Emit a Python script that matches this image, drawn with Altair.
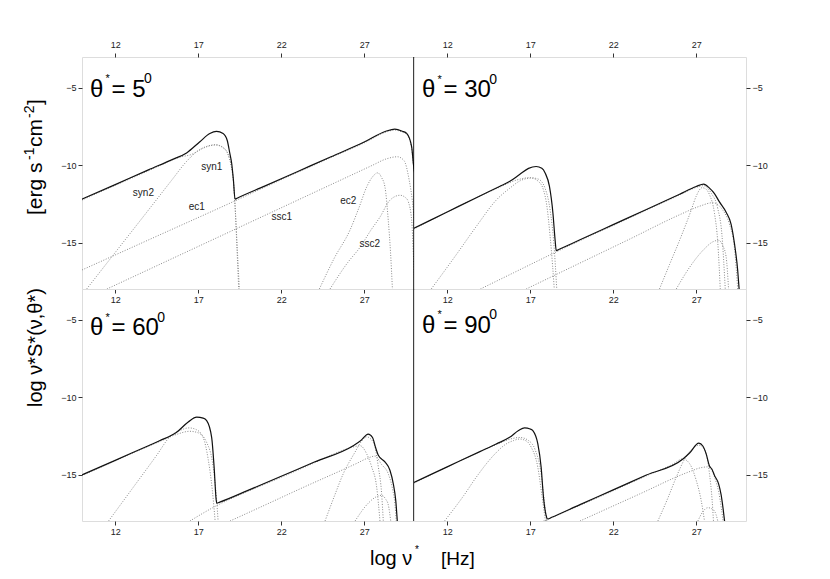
import altair as alt
import pandas as pd

X_DOMAIN = [10, 30]
Y_DOMAIN = [-18, -3]
X_TICKS = [12, 17, 22, 27]
Y_TICKS = [-5, -10, -15]

ANGLES = ["5", "30", "60", "90"]

# ---------------- theta = 5 ----------------
TL_TOTAL = [(10, -12.19), (12, -11.25), (14, -10.3), (15.5, -9.6), (16.3, -9.2), (17.1, -8.48), (17.7, -7.95),
            (18.1, -7.81), (18.5, -7.95), (18.75, -8.4), (18.9, -9.2), (19.02, -9.9), (19.12, -10.94), (19.22, -12.19),
            (19.4, -12.1), (21, -11.35), (23, -10.4), (25, -9.45), (27, -8.5), (28.3, -7.8), (28.84, -7.66),
            (29.3, -7.8), (29.56, -7.94), (29.86, -8.81), (29.96, -9.88), (30.05, -10.6)]
TL_SYN1 = [(10, -12.25), (14, -10.36), (16.0, -9.45), (16.6, -9.3), (17.2, -8.95), (17.6, -8.77), (18.05, -8.69),
           (18.5, -8.87), (18.8, -9.3), (19.0, -10.1), (19.12, -11.0), (19.24, -13.0), (19.34, -15.5), (19.44, -18)]
TL_SYN2 = [(10.28, -18), (12, -15.64), (14, -12.9), (15.4, -10.97), (16.3, -9.75), (17.0, -9.05), (17.6, -8.75),
           (18.05, -8.67), (18.5, -8.85), (18.8, -9.3), (19.0, -10.1), (19.12, -11.0), (19.24, -13.0),
           (19.36, -15.5), (19.48, -18)]
TL_EC1 = [(10, -16.77), (14, -14.83), (19.22, -12.3), (21, -11.42), (23, -10.45), (25, -9.5), (27, -8.55),
          (28.3, -7.86), (28.84, -7.72), (29.3, -7.86), (29.56, -8.0), (29.86, -8.9), (29.96, -9.95), (30.05, -10.7)]
TL_SSC1 = [(11.5, -18), (15, -16.25), (20, -13.75), (25, -11.25), (27.5, -10.0), (28.3, -9.6), (29.0, -9.45),
           (29.4, -9.7), (29.7, -10.9), (29.9, -12.3), (30.05, -14)]
TL_EC2 = [(24.3, -18), (25.2, -16.0), (26.14, -14.2), (26.7, -12.7), (27.15, -11.4), (27.5, -10.75), (27.81, -10.49),
          (28.05, -10.8), (28.25, -11.4), (28.45, -13.56), (28.59, -15.7), (28.7, -18)]
TL_SSC2 = [(24.94, -18), (26.0, -16.3), (26.75, -15.3), (27.4, -14.2), (27.95, -13.35), (28.55, -12.26),
           (29.16, -11.94), (29.5, -12.1), (29.66, -12.37), (29.86, -13.56), (29.96, -15.7), (30.05, -18)]

LABEL_TEXT = ["syn1", "syn2", "ec1", "ssc1", "ec2", "ssc2"]
LABEL_X = [17.82, 13.7, 16.91, 22.03, 26.04, 27.34]
LABEL_Y = [-10.08, -11.8, -12.67, -13.32, -12.3, -15.09]

# ---------------- theta = 30 ----------------
TR_TOTAL = [(10, -14.07), (12, -13.02), (14, -11.97), (15.15, -11.37), (15.75, -11.05), (16.36, -10.6), (16.9, -10.2),
            (17.36, -10.08), (17.7, -10.2), (17.9, -10.5), (18.16, -11.37), (18.37, -13.1), (18.5, -14.83),
            (18.57, -15.52), (18.75, -15.43), (20, -14.82), (22, -13.84), (24, -12.86), (26, -11.87), (27.0, -11.37),
            (27.45, -11.22), (27.8, -11.48), (28.1, -11.83), (28.4, -12.37), (28.81, -13.05), (29.1, -13.8),
            (29.31, -15.1), (29.5, -16.8), (29.6, -18.2)]
TR_SYN1 = [(10, -14.12), (15.15, -11.42), (16.2, -10.95), (17.0, -10.8), (17.5, -10.9), (17.9, -11.5), (18.2, -12.9),
           (18.42, -15.0), (18.6, -18)]
TR_SYN2 = [(11.04, -18), (12.5, -15.85), (13.75, -13.96), (15.0, -12.2), (15.75, -11.5), (16.4, -11.0),
           (17.06, -10.83), (17.5, -11.05), (17.8, -11.6), (18.0, -12.6), (18.2, -14.6), (18.35, -16.5), (18.45, -18)]
TR_EC1 = [(14.0, -18), (16, -16.95), (18.57, -15.6), (20, -14.87), (22, -13.89), (24, -12.9), (26, -11.92),
          (27.0, -11.43), (27.45, -11.32), (27.9, -11.8), (28.3, -12.8), (28.55, -14.5), (28.75, -18)]
TR_SSC1 = [(16.76, -18), (20, -16.32), (23, -14.77), (26, -13.2), (27.2, -12.65), (28.0, -12.42), (28.6, -12.9),
           (29.0, -13.8), (29.3, -15.3), (29.5, -18)]
TR_EC2 = [(24.79, -18), (25.4, -16.4), (26.0, -14.85), (26.7, -12.9), (27.0, -12.0), (27.35, -11.45), (27.6, -11.55),
          (27.8, -11.9), (28.1, -13.1), (28.3, -15.0), (28.45, -18)]
TR_SSC2 = [(25.8, -18), (26.6, -16.6), (27.5, -15.4), (28.0, -14.95), (28.35, -14.85), (28.6, -15.2), (28.8, -15.9),
           (28.95, -18)]

# ---------------- theta = 60 ----------------
BL_TOTAL = [(10, -15.02), (12, -14.08), (14, -13.13), (14.7, -12.8), (15.7, -12.26), (16.4, -11.6), (16.91, -11.29),
            (17.3, -11.35), (17.51, -11.51), (17.81, -12.59), (17.96, -14.53), (18.08, -16.6), (18.12, -16.85),
            (18.3, -16.78), (20, -16.02), (22, -15.11), (24, -14.19), (26.34, -13.13), (26.8, -12.8), (27.24, -12.38),
            (27.5, -12.6), (27.7, -13.3), (27.85, -13.75), (28.25, -14.18), (28.55, -14.72), (28.75, -15.58),
            (28.9, -16.67), (29.0, -18.1)]
BL_SYN1 = [(10, -15.07), (14.7, -12.85), (15.7, -12.4), (16.5, -12.2), (17.0, -12.3), (17.5, -12.9), (17.9, -14.5),
           (18.1, -16.5), (18.2, -18)]
BL_SYN2 = [(11.6, -18), (13.0, -15.95), (14.5, -13.75), (15.3, -12.55), (15.9, -12.15), (16.45, -11.98),
           (16.9, -12.1), (17.3, -12.6), (17.6, -14.0), (17.85, -16.0), (18.02, -18)]
BL_EC1 = [(16.5, -18), (18.12, -17.0), (20, -16.08), (22, -15.17), (24, -14.24), (26.0, -13.32), (26.5, -13.17),
          (26.75, -13.13), (27.15, -13.66), (27.45, -14.5), (27.75, -15.8), (27.95, -18)]
BL_SSC1 = [(18.92, -18), (21, -16.98), (23.16, -15.91), (26.5, -14.3), (27.3, -13.9), (27.65, -13.8), (28.05, -14.35),
           (28.45, -14.95), (28.7, -15.9), (28.85, -16.9), (28.93, -18)]
BL_EC2 = [(24.64, -18), (25.2, -16.4), (25.74, -14.94), (26.45, -13.54), (26.8, -12.9), (27.15, -12.56), (27.4, -12.7),
          (27.65, -13.22), (27.85, -14.5), (28.05, -16.23), (28.15, -18)]
BL_SSC2 = [(26.45, -18), (27.2, -16.9), (27.7, -16.45), (28.05, -16.34), (28.3, -16.6), (28.45, -16.95), (28.6, -18)]

# ---------------- theta = 90 ----------------
BR_TOTAL = [(10, -15.5), (12, -14.5), (14, -13.5), (14.95, -13.02), (15.76, -12.59), (16.3, -12.15), (16.66, -11.98),
            (17.0, -12.05), (17.16, -12.16), (17.46, -13.02), (17.66, -14.53), (17.8, -16.47), (17.96, -17.65),
            (18.06, -17.87), (18.3, -17.76), (20, -16.94), (22, -15.99), (24, -15.03), (26.2, -13.99), (26.6, -13.6),
            (27.16, -12.97), (27.4, -13.15), (27.6, -13.66), (27.8, -14.45), (27.95, -14.65), (28.1, -15.05),
            (28.35, -15.6), (28.5, -16.3), (28.62, -17.2), (28.72, -18.1)]
BR_SYN1 = [(10, -15.55), (14.95, -13.07), (15.8, -12.7), (16.4, -12.6), (16.9, -12.8), (17.3, -13.4), (17.65, -14.9),
           (17.85, -16.7), (18.0, -18)]
BR_SYN2 = [(11.84, -18), (13.0, -16.35), (13.75, -15.17), (14.8, -13.75), (15.55, -13.02), (16.0, -12.8),
           (16.36, -12.7), (16.8, -12.85), (17.06, -13.23), (17.46, -14.53), (17.72, -16.47), (17.92, -18)]
BR_EC1 = [(17.8, -18), (20, -16.99), (22, -16.04), (24, -15.08), (25.6, -14.32), (26.19, -13.98), (26.6, -14.29),
          (27.0, -15.37), (27.3, -16.67), (27.5, -18)]
BR_SSC1 = [(20.0, -18), (23.6, -16.25), (26.5, -14.85), (27.3, -14.55), (27.7, -14.5), (27.95, -14.75),
           (28.15, -15.3), (28.35, -16.1), (28.52, -17.2), (28.62, -18)]
BR_EC2 = [(24.69, -18), (25.3, -16.5), (25.8, -15.16), (26.3, -14.0), (26.8, -13.3), (27.16, -13.1), (27.45, -13.3),
          (27.6, -13.64), (27.8, -14.94), (27.96, -16.67), (28.04, -18)]
BR_SSC2 = [(27.1, -18), (27.4, -17.4), (27.7, -17.14), (28.0, -17.25), (28.2, -17.6), (28.3, -18)]

PANEL_LABEL_Y = [-5.57, -5.61, -5.98, -5.83]

FONT = "Liberation Sans"
xs = alt.Scale(domain=X_DOMAIN, nice=False, zero=False)
ys = alt.Scale(domain=Y_DOMAIN, nice=False, zero=False)

AXIS_STYLE = dict(tickSize=4, tickColor="#333", labelFontSize=9, labelColor="#222",
                  domain=False, grid=False, title=None, labelFont=FONT)


def xaxis(orient):
    return alt.Axis(orient=orient, values=X_TICKS, labelPadding=4 if orient == "top" else 2, **AXIS_STYLE)


def yaxis(orient):
    return alt.Axis(orient=orient, values=Y_TICKS, labelPadding=2, **AXIS_STYLE)


def to_df(series):
    rows = []
    for name, pts in series.items():
        for k, (x, y) in enumerate(pts):
            rows.append({"series": name, "i": k, "x": x, "y": y})
    return pd.DataFrame(rows)


def panel(idx, total, comps, top, left, labels=False, extra=None):
    dfc = to_df(comps)
    dft = to_df({"total": total})
    comp = alt.Chart(dfc).mark_line(clip=True, interpolate="monotone", strokeDash=[1, 1.6], strokeWidth=1,
                                    color="#8a8a8a").encode(
        x=alt.X("x:Q", scale=xs, axis=xaxis("top" if top else "bottom")),
        y=alt.Y("y:Q", scale=ys, axis=yaxis("left" if left else "right")),
        detail="series:N", order="i:Q")
    tot = alt.Chart(dft).mark_line(clip=True, interpolate="monotone", color="#111", strokeWidth=1.2).encode(
        x=alt.X("x:Q", scale=xs, axis=xaxis("bottom") if top else None),
        y=alt.Y("y:Q", scale=ys, axis=None),
        order="i:Q")
    layers = [comp, tot]
    ang = ANGLES[idx]
    lab = pd.DataFrame({"x": [10.48], "y": [PANEL_LABEL_Y[idx]]})
    base = alt.Chart(lab).encode(x=alt.X("x:Q", scale=xs, axis=None), y=alt.Y("y:Q", scale=ys, axis=None))
    txt = dict(align="left", baseline="alphabetic", font=FONT, color="#000")
    layers.append(base.mark_text(fontSize=24, dx=0, text="θ", **txt))
    layers.append(base.mark_text(fontSize=11, dx=15.5, dy=-14.5, text="*", **txt))
    layers.append(base.mark_text(fontSize=24, dx=21.5, text="= " + ang, **txt))
    layers.append(base.mark_text(fontSize=14, dx=54 + 13.35 * (len(ang) - 1), dy=-13.4, text="0", **txt))
    if labels:
        dfl = pd.DataFrame({"x": LABEL_X, "y": LABEL_Y, "t": LABEL_TEXT})
        layers.append(alt.Chart(dfl).mark_text(fontSize=10, font=FONT, color="#222").encode(
            x=alt.X("x:Q", scale=xs, axis=None), y=alt.Y("y:Q", scale=ys, axis=None), text="t:N"))
    if left:
        layers.append(alt.Chart(pd.DataFrame({"x": [X_DOMAIN[1]]})).mark_rule(color="#000", strokeWidth=1.5)
                      .encode(x=alt.X("x:Q", scale=xs, axis=None)))
    if extra:
        layers.extend(extra)
    return alt.layer(*layers).resolve_axis(x="independent", y="independent").properties(width=332, height=232)


# axis titles (placed relative to the lower-left panel)
ttl = alt.Chart(pd.DataFrame({"a": [0]}))
tstyle = dict(align="left", baseline="alphabetic", font=FONT, color="#000")
extra_bl = [
    ttl.mark_text(angle=270, fontSize=20, text="log ν*S*(ν,θ*)", **tstyle).encode(x=alt.value(-40), y=alt.value(118)),
    ttl.mark_text(angle=270, fontSize=21, text="[erg s", **tstyle).encode(x=alt.value(-40), y=alt.value(-74)),
    ttl.mark_text(angle=270, fontSize=14, text="-1", **tstyle).encode(x=alt.value(-48), y=alt.value(-129)),
    ttl.mark_text(angle=270, fontSize=21, text="cm", **tstyle).encode(x=alt.value(-40), y=alt.value(-142)),
    ttl.mark_text(angle=270, fontSize=14, text="-2", **tstyle).encode(x=alt.value(-48), y=alt.value(-171)),
    ttl.mark_text(angle=270, fontSize=21, text="]", **tstyle).encode(x=alt.value(-40), y=alt.value(-184)),
    ttl.mark_text(fontSize=20, text="log ν", **tstyle).encode(x=alt.value(288), y=alt.value(276)),
    ttl.mark_text(fontSize=10, text="*", **tstyle).encode(x=alt.value(333), y=alt.value(264)),
    ttl.mark_text(fontSize=19, text="[Hz]", **tstyle).encode(x=alt.value(359), y=alt.value(276)),
]

tl = panel(0, TL_TOTAL, {"syn1": TL_SYN1, "syn2": TL_SYN2, "ec1": TL_EC1, "ssc1": TL_SSC1, "ec2": TL_EC2,
                         "ssc2": TL_SSC2}, top=True, left=True, labels=True)
tr = panel(1, TR_TOTAL, {"syn1": TR_SYN1, "syn2": TR_SYN2, "ec1": TR_EC1, "ssc1": TR_SSC1, "ec2": TR_EC2,
                         "ssc2": TR_SSC2}, top=True, left=False)
bl = panel(2, BL_TOTAL, {"syn1": BL_SYN1, "syn2": BL_SYN2, "ec1": BL_EC1, "ssc1": BL_SSC1, "ec2": BL_EC2,
                         "ssc2": BL_SSC2}, top=False, left=True, extra=extra_bl)
br = panel(3, BR_TOTAL, {"syn1": BR_SYN1, "syn2": BR_SYN2, "ec1": BR_EC1, "ssc1": BR_SSC1, "ec2": BR_EC2,
                         "ssc2": BR_SSC2}, top=False, left=False)

chart = alt.concat(tl, tr, bl, br, columns=2, spacing=0, bounds="flush").properties(
    padding={"left": 14, "top": 31, "right": 5, "bottom": 5}
).configure_view(stroke="#555", strokeWidth=1).configure(font=FONT, background="white")

chart.save("out.html", embed_options={"renderer": "svg", "actions": False})
